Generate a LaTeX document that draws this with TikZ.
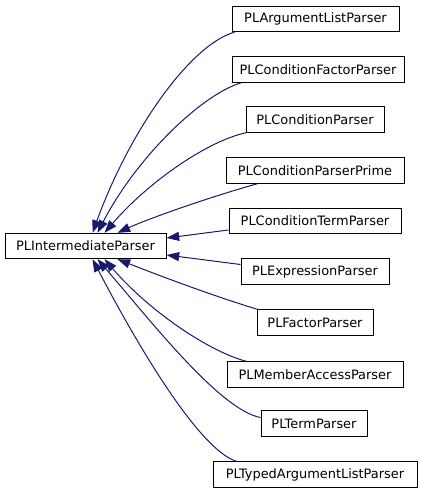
\documentclass[tikz,border=0pt]{standalone}
\usepackage{fontspec}
\setmainfont{DejaVu Sans}
\usetikzlibrary{arrows.meta,calc}
\definecolor{edgeblue}{HTML}{191970}
\begin{document}
\begin{tikzpicture}[x=0.75pt,y=-0.75pt,
  cls/.style={draw=black,line width=0.75pt,fill=white,minimum height=19pt,inner sep=0pt,
    font=\fontsize{9.7pt}{11pt}\selectfont},
  edge/.style={draw=edgeblue,line width=0.75pt,-{Triangle[length=9.5pt,width=6.75pt]}}]
\useasboundingbox (0,0) rectangle (421,493);

\node[cls,minimum width=161*0.75pt] (L) at (85.5,246) {PLIntermediateParser};
\node[cls,minimum width=167*0.75pt] (n1) at (315.5,19) {PLArgumentListParser};
\node[cls,minimum width=172*0.75pt] (n2) at (318,69.5) {PLConditionFactorParser};
\node[cls,minimum width=138*0.75pt] (n3) at (315,119.5) {PLConditionParser};
\node[cls,minimum width=178*0.75pt] (n4) at (315,170.5) {PLConditionParserPrime};
\node[cls,minimum width=172*0.75pt] (n5) at (315,221) {PLConditionTermParser};
\node[cls,minimum width=148*0.75pt] (n6) at (315,271.5) {PLExpressionParser};
\node[cls,minimum width=116*0.75pt] (n7) at (315,322.5) {PLFactorParser};
\node[cls,minimum width=176*0.75pt] (n8) at (315,374.5) {PLMemberAccessParser};
\node[cls,minimum width=106*0.75pt] (n9) at (314,423.5) {PLTermParser};
\node[cls,minimum width=204*0.75pt] (n10) at (315,474.5) {PLTypedArgumentListParser};

\draw[edge] ($(n1.south west)+(3,0)$) .. controls (190,45) and (130,130) .. ($(L.north west)+(88,0)$);
\draw[edge] ($(n2.south west)+(10,0)$) .. controls (200,95) and (135,160) .. ($(L.north west)+(93,0)$);
\draw[edge] ($(n3.south west)+(1,0)$) .. controls (210,140) and (150,180) .. ($(L.north west)+(100,0)$);
\draw[edge] ($(n4.south west)+(32,0)$) .. controls (210,197) and (150,218) .. ($(L.north west)+(113,0)$);
\draw[edge] ($(n5.west)+(0,9)$) -- ($(L.east)+(0,-8)$);
\draw[edge] ($(n6.west)+(0,-7)$) -- ($(L.east)+(0,9)$);
\draw[edge] ($(n7.north west)+(1,0)$) .. controls (210,295) and (150,272) .. ($(L.south west)+(113,0)$);
\draw[edge] ($(n8.north west)+(20,0)$) .. controls (210,352) and (150,312) .. ($(L.south west)+(100,0)$);
\draw[edge] ($(n9.west)+(0,-6)$) .. controls (220,410) and (150,320) .. ($(L.south west)+(93,0)$);
\draw[edge] ($(n10.north west)+(24,0)$) .. controls (200,450) and (140,350) .. ($(L.south west)+(88,0)$);
\end{tikzpicture}
\end{document}
